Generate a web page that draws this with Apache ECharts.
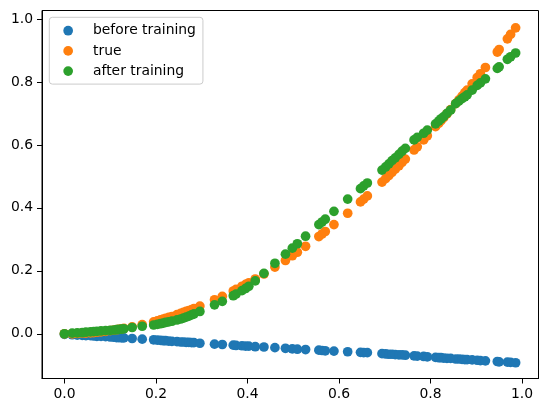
<!DOCTYPE html>
<html>
<head>
<meta charset="utf-8">
<script src="https://cdn.jsdelivr.net/npm/echarts@6/dist/echarts.min.js"></script>
<style>
  html, body { margin: 0; padding: 0; background: #fff; }
  #chart { width: 547px; height: 413px; }
</style>
</head>
<body>
<div id="chart"></div>
<script>
// shared x positions for all three series
const xs = [
  0.000, 0.017, 0.028, 0.039, 0.047, 0.057, 0.064, 0.071, 0.080, 0.090,
  0.100, 0.108, 0.114, 0.119, 0.125, 0.130, 0.148, 0.170, 0.195, 0.203,
  0.210, 0.216, 0.221, 0.228, 0.235, 0.246, 0.254, 0.260, 0.266, 0.272,
  0.278, 0.283, 0.296, 0.328, 0.345, 0.369, 0.375, 0.388, 0.396, 0.403,
  0.417, 0.436, 0.460, 0.483, 0.498, 0.509, 0.527, 0.556, 0.563, 0.570,
  0.589, 0.619, 0.647, 0.654, 0.662, 0.694, 0.702, 0.709, 0.716, 0.723,
  0.731, 0.738, 0.745, 0.764, 0.771, 0.785, 0.793, 0.811, 0.818, 0.823,
  0.829, 0.836, 0.844, 0.855, 0.862, 0.869, 0.875, 0.880, 0.891, 0.902,
  0.909, 0.920, 0.946, 0.950, 0.968, 0.975, 0.986
];

const beforeTraining = [
  -0.002, -0.003, -0.004, -0.005, -0.006, -0.006, -0.007, -0.008, -0.008, -0.009,
  -0.010, -0.011, -0.012, -0.012, -0.013, -0.013, -0.015, -0.017, -0.019, -0.020,
  -0.021, -0.022, -0.022, -0.023, -0.024, -0.025, -0.026, -0.026, -0.027, -0.027,
  -0.028, -0.028, -0.030, -0.033, -0.034, -0.036, -0.037, -0.038, -0.039, -0.039,
  -0.041, -0.042, -0.044, -0.046, -0.048, -0.049, -0.050, -0.052, -0.053, -0.054,
  -0.055, -0.057, -0.059, -0.060, -0.060, -0.063, -0.064, -0.065, -0.065, -0.066,
  -0.067, -0.067, -0.068, -0.070, -0.071, -0.072, -0.073, -0.075, -0.076, -0.076,
  -0.077, -0.078, -0.078, -0.080, -0.080, -0.081, -0.082, -0.082, -0.083, -0.084,
  -0.085, -0.086, -0.088, -0.089, -0.090, -0.091, -0.092
];

const trueValues = [
  0.000, 0.000, 0.001, 0.002, 0.002, 0.003, 0.004, 0.005, 0.006, 0.008,
  0.010, 0.012, 0.013, 0.014, 0.016, 0.017, 0.022, 0.029, 0.038, 0.041,
  0.044, 0.047, 0.049, 0.052, 0.055, 0.061, 0.065, 0.068, 0.071, 0.074,
  0.077, 0.080, 0.088, 0.108, 0.119, 0.136, 0.141, 0.151, 0.157, 0.162,
  0.174, 0.190, 0.212, 0.233, 0.248, 0.259, 0.278, 0.309, 0.317, 0.325,
  0.347, 0.383, 0.419, 0.428, 0.438, 0.482, 0.493, 0.503, 0.513, 0.523,
  0.534, 0.545, 0.555, 0.584, 0.594, 0.616, 0.629, 0.658, 0.669, 0.677,
  0.687, 0.699, 0.712, 0.731, 0.743, 0.755, 0.766, 0.774, 0.794, 0.814,
  0.826, 0.846, 0.895, 0.903, 0.937, 0.951, 0.972
];

const afterTraining = [
  0.000, 0.002, 0.003, 0.004, 0.005, 0.006, 0.007, 0.008, 0.009, 0.010,
  0.011, 0.012, 0.013, 0.014, 0.015, 0.016, 0.020, 0.024, 0.028, 0.030,
  0.032, 0.034, 0.036, 0.038, 0.040, 0.044, 0.047, 0.050, 0.053, 0.056,
  0.060, 0.063, 0.071, 0.092, 0.103, 0.121, 0.126, 0.137, 0.144, 0.151,
  0.168, 0.192, 0.224, 0.253, 0.272, 0.286, 0.310, 0.347, 0.355, 0.364,
  0.389, 0.428, 0.461, 0.470, 0.479, 0.520, 0.530, 0.540, 0.550, 0.559,
  0.570, 0.580, 0.589, 0.616, 0.624, 0.637, 0.647, 0.667, 0.676, 0.683,
  0.690, 0.700, 0.711, 0.731, 0.739, 0.747, 0.753, 0.759, 0.774, 0.789,
  0.797, 0.810, 0.843, 0.848, 0.872, 0.880, 0.892
];

const tickValues = [0, 0.2, 0.4, 0.6, 0.8, 1.0];

const toPoints = (ys) => xs.map((x, i) => [x, ys[i]]);

const chart = echarts.init(document.getElementById('chart'), null, { renderer: 'canvas' });

const FONT = 'DejaVu Sans';
const DOT = 9.7; // marker diameter incl. edge

const axisCommon = {
  type: 'value',
  splitLine: { show: false },
  axisLine: { show: true, onZero: false, lineStyle: { color: '#000', width: 1 } },
  axisTick: {
    show: true,
    inside: false,
    length: 5,
    customValues: tickValues,
    lineStyle: { color: '#000', width: 1 },
  },
  axisLabel: {
    show: true,
    customValues: tickValues,
    color: '#000',
    fontFamily: FONT,
    fontSize: 13.9,
    margin: 9,
    formatter: (v) => v.toFixed(1),
  },
};

const option = {
  backgroundColor: '#fff',
  animation: false,
  grid: {
    left: 42,
    right: 8.5,
    top: 10.5,
    bottom: 34.5,
    show: true,
    borderColor: '#000',
    borderWidth: 1,
    backgroundColor: 'transparent',
  },
  xAxis: Object.assign({}, axisCommon, { min: -0.049, max: 1.036 }),
  yAxis: Object.assign({}, axisCommon, { min: -0.142, max: 1.027 }),
  legend: {
    orient: 'vertical',
    left: 49.3,
    top: 17.3,
    padding: [5.4, 7, 5, 14],
    itemGap: 4.2,
    itemWidth: DOT,
    itemHeight: DOT,
    icon: 'circle',
    backgroundColor: 'rgba(255,255,255,0.8)',
    borderColor: '#cccccc',
    borderWidth: 1,
    borderRadius: 3,
    selectedMode: false,
    textStyle: {
      color: '#000',
      fontFamily: FONT,
      fontSize: 13.9,
      lineHeight: 16,
      padding: [0, 0, 0, 15],
    },
    data: ['before training', 'true', 'after training'],
  },
  series: [
    {
      name: 'before training',
      type: 'scatter',
      symbolSize: DOT,
      itemStyle: { color: '#1f77b4', opacity: 1 },
      data: toPoints(beforeTraining),
    },
    {
      name: 'true',
      type: 'scatter',
      symbolSize: DOT,
      itemStyle: { color: '#ff7f0e', opacity: 1 },
      data: toPoints(trueValues),
    },
    {
      name: 'after training',
      type: 'scatter',
      symbolSize: DOT,
      itemStyle: { color: '#2ca02c', opacity: 1 },
      data: toPoints(afterTraining),
    },
  ],
};

chart.setOption(option);
</script>
</body>
</html>
